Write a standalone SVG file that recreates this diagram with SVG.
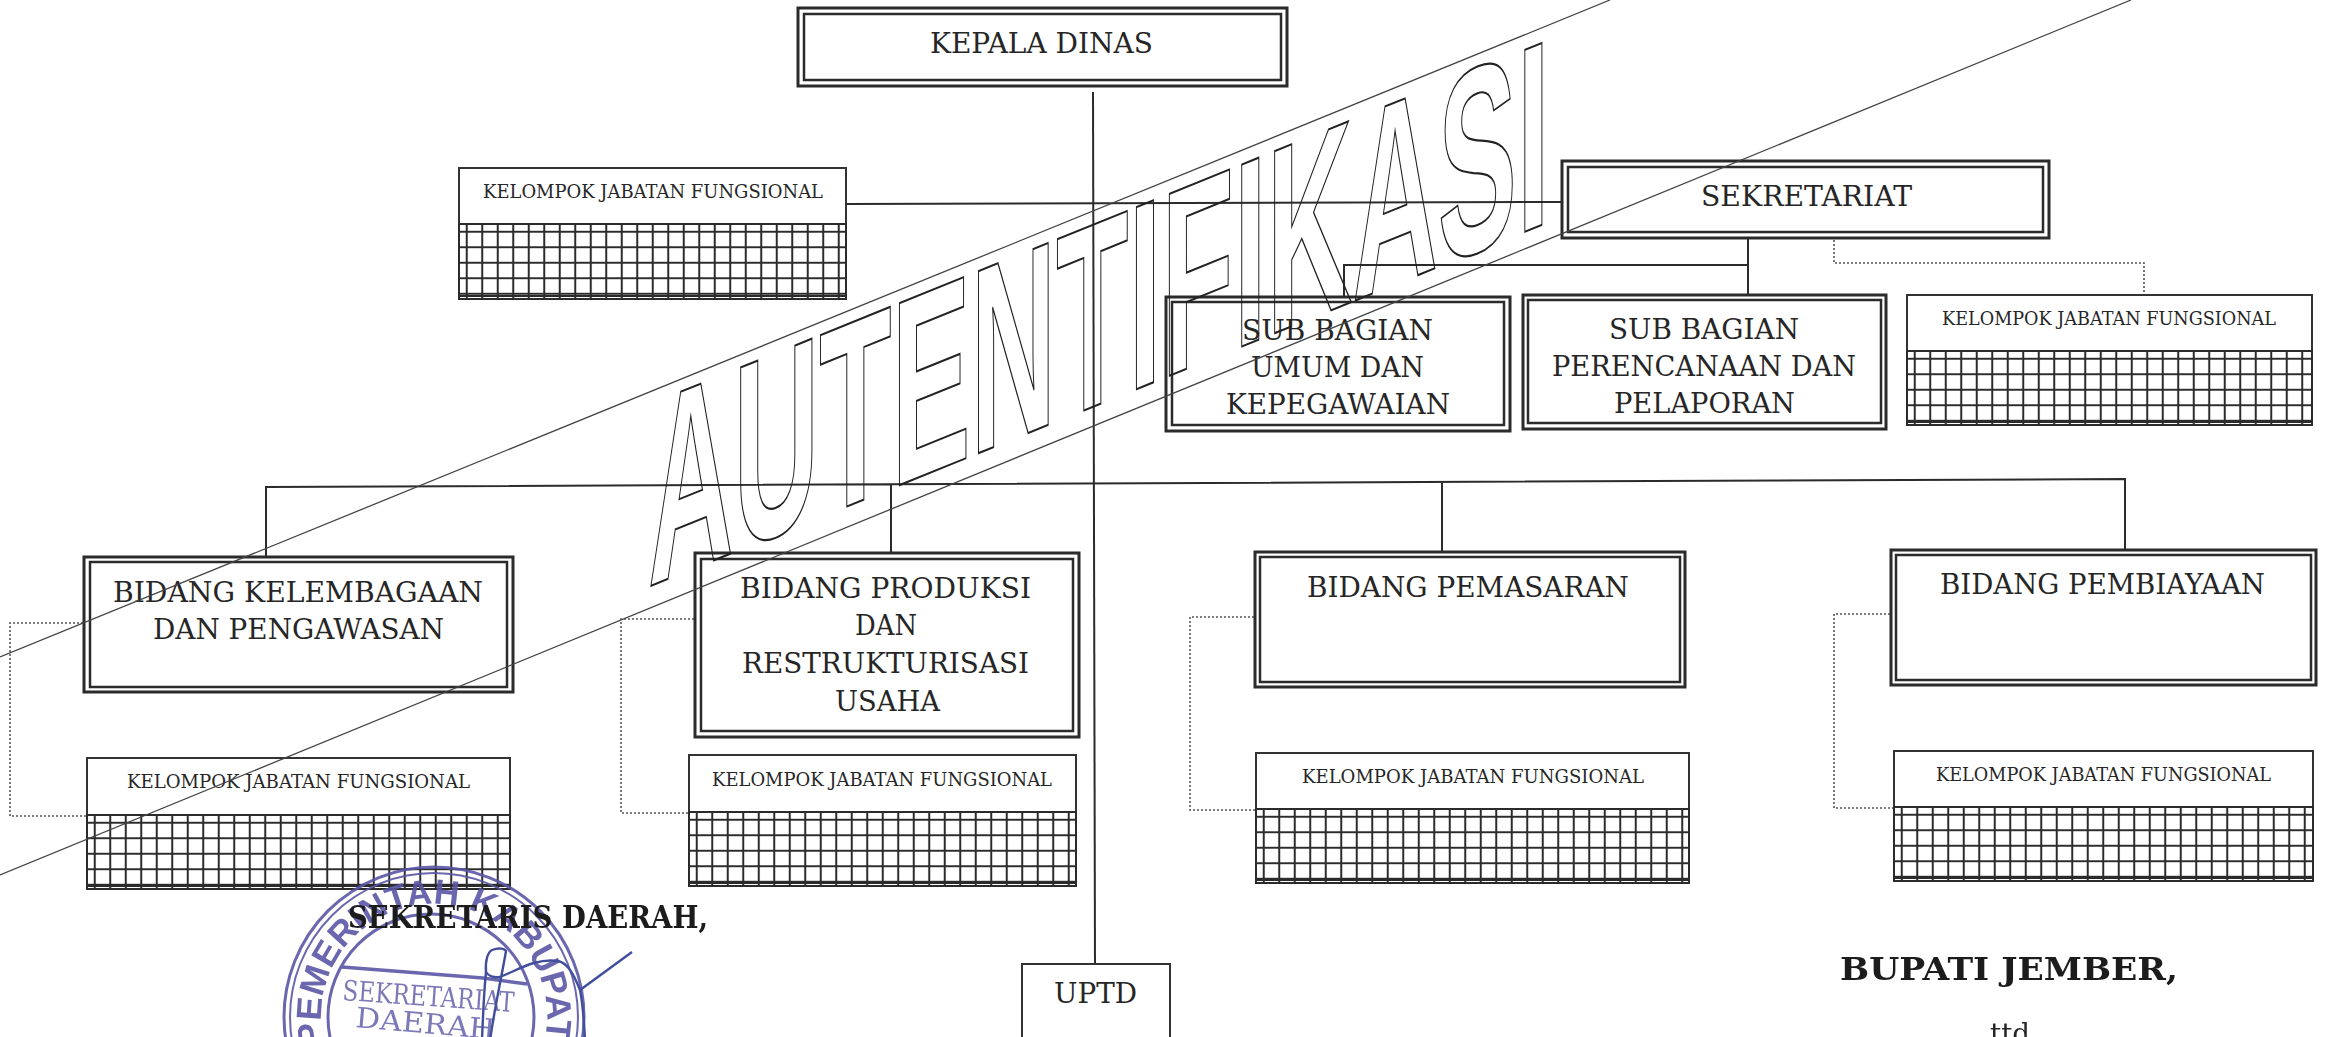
<svg xmlns="http://www.w3.org/2000/svg" width="2327" height="1037" viewBox="0 0 2327 1037">
<style>
text{font-family:"DejaVu Serif","Liberation Serif",serif;fill:#262626;font-size:27px}
.s{font-size:19px}
.b{font-weight:bold;fill:#1c1c1c;font-size:32px}
.o{fill:#fff;stroke:#2b2b2b;stroke-width:3}
.i{fill:#fff;stroke:#2b2b2b;stroke-width:2.5}
.k{fill:#fff;stroke:#333;stroke-width:2}
.g{fill:url(#grid);stroke:#2b2b2b;stroke-width:2}
.c{fill:none;stroke:#2b2b2b;stroke-width:2}
.d{fill:none;stroke:#555;stroke-width:1.6;stroke-dasharray:2 2}
.w{fill:none;stroke:#444;stroke-width:1.3}
.wt{font-family:"Liberation Sans",Arial,sans-serif;font-weight:bold;font-size:100px;fill:none;stroke:#222;stroke-width:1.7;vector-effect:non-scaling-stroke}
.st{fill:none;stroke:#5a56a6}
.stt{font-family:"Liberation Sans",Arial,sans-serif;font-weight:bold;fill:#5a56a6;font-size:35px}
.sts{font-family:"DejaVu Serif","Liberation Serif",serif;fill:#6d6ab0;font-size:28px}
.sg{fill:none;stroke:#2c3a90;stroke-width:2.4}
</style>
<defs>
<pattern id="grid" width="15.5" height="15.5" patternUnits="userSpaceOnUse">
<rect width="15.5" height="15.5" fill="#fff"/>
<path d="M0 7.75H15.5M7.75 0V15.5" fill="none" stroke="#2b2b2b" stroke-width="2"/>
</pattern>
<path id="stampArc" d="M331.6 1064.8A113 113 0 1 1 536.4 1064.8"/>
</defs>
<rect width="2327" height="1037" fill="#fff"/>

<g id="connectors">
<path class="c" d="M1093 92L1095 964"/>
<path class="c" d="M846 204L1562 202"/>
<path class="c" d="M1748 238V295M1344 296V265L1748 265"/>
<path class="c" d="M266 558V487L2125 479V550M891 484V553M1442 481V552"/>
<path class="d" d="M1834 240V263H2144V295"/>
<path class="d" d="M83 623H10V816H87"/>
<path class="d" d="M694 619H621V813H689"/>
<path class="d" d="M1254 617H1190V810H1256"/>
<path class="d" d="M1890 614H1834V808H1894"/>
</g>

<g id="kepala-dinas"><rect class="o" x="798" y="8" width="489" height="78"/><rect class="i" x="804" y="14" width="477" height="66"/><text x="930" y="53" textLength="223" lengthAdjust="spacingAndGlyphs">KEPALA DINAS</text></g>

<g id="kjf-atas"><rect class="k" x="459" y="168" width="387" height="56"/><rect class="g" transform="translate(459 224)" width="387" height="75"/><path class="c" d="M459 296H846"/><text class="s" x="483" y="198" textLength="340" lengthAdjust="spacingAndGlyphs">KELOMPOK JABATAN FUNGSIONAL</text></g>

<g id="sekretariat"><rect class="o" x="1562" y="161" width="487" height="77"/><rect class="i" x="1568" y="167" width="475" height="65"/><text x="1701" y="206" textLength="211" lengthAdjust="spacingAndGlyphs">SEKRETARIAT</text></g>

<g id="sub-umum"><rect class="o" x="1166" y="297" width="344" height="134"/><rect class="i" x="1172" y="302" width="332" height="123"/><text x="1242" y="340" textLength="191" lengthAdjust="spacingAndGlyphs">SUB BAGIAN</text><text x="1251" y="377" textLength="173" lengthAdjust="spacingAndGlyphs">UMUM DAN</text><text x="1226" y="414" textLength="224" lengthAdjust="spacingAndGlyphs">KEPEGAWAIAN</text></g>

<g id="sub-perencanaan"><rect class="o" x="1523" y="295" width="363" height="134"/><rect class="i" x="1528" y="300" width="353" height="123"/><text x="1609" y="339" textLength="190" lengthAdjust="spacingAndGlyphs">SUB BAGIAN</text><text x="1552" y="376" textLength="304" lengthAdjust="spacingAndGlyphs">PERENCANAAN DAN</text><text x="1614" y="413" textLength="181" lengthAdjust="spacingAndGlyphs">PELAPORAN</text></g>

<g id="kjf-sekretariat"><rect class="k" x="1907" y="295" width="405" height="56"/><rect class="g" transform="translate(1907 351)" width="405" height="74"/><path class="c" d="M1907 422H2312"/><text class="s" x="1942" y="325" textLength="334" lengthAdjust="spacingAndGlyphs">KELOMPOK JABATAN FUNGSIONAL</text></g>

<g id="bidang-kelembagaan"><rect class="o" x="84" y="557" width="429" height="135"/><rect class="i" x="90" y="562" width="417" height="125"/><text x="113" y="602" textLength="370" lengthAdjust="spacingAndGlyphs">BIDANG KELEMBAGAAN</text><text x="153" y="639" textLength="291" lengthAdjust="spacingAndGlyphs">DAN PENGAWASAN</text></g>

<g id="kjf-kelembagaan"><rect class="k" x="87" y="758" width="423" height="57"/><rect class="g" transform="translate(87 815)" width="423" height="74"/><path class="c" d="M87 886H510"/><text class="s" x="127" y="788" textLength="343" lengthAdjust="spacingAndGlyphs">KELOMPOK JABATAN FUNGSIONAL</text></g>

<g id="bidang-produksi"><rect class="o" x="695" y="553" width="384" height="184"/><rect class="i" x="701" y="559" width="372" height="172"/><text x="740" y="598" textLength="291" lengthAdjust="spacingAndGlyphs">BIDANG PRODUKSI</text><text x="855" y="635" textLength="62" lengthAdjust="spacingAndGlyphs">DAN</text><text x="742" y="673" textLength="287" lengthAdjust="spacingAndGlyphs">RESTRUKTURISASI</text><text x="835" y="711" textLength="105" lengthAdjust="spacingAndGlyphs">USAHA</text></g>

<g id="kjf-produksi"><rect class="k" x="689" y="755" width="387" height="57"/><rect class="g" transform="translate(689 812)" width="387" height="74"/><path class="c" d="M689 883H1076"/><text class="s" x="712" y="786" textLength="340" lengthAdjust="spacingAndGlyphs">KELOMPOK JABATAN FUNGSIONAL</text></g>

<g id="bidang-pemasaran"><rect class="o" x="1255" y="552" width="430" height="135"/><rect class="i" x="1260" y="557" width="420" height="125"/><text x="1307" y="597" textLength="322" lengthAdjust="spacingAndGlyphs">BIDANG PEMASARAN</text></g>

<g id="kjf-pemasaran"><rect class="k" x="1256" y="753" width="433" height="56"/><rect class="g" transform="translate(1256 809)" width="433" height="74"/><path class="c" d="M1256 880H1689"/><text class="s" x="1302" y="783" textLength="342" lengthAdjust="spacingAndGlyphs">KELOMPOK JABATAN FUNGSIONAL</text></g>

<g id="bidang-pembiayaan"><rect class="o" x="1891" y="550" width="425" height="135"/><rect class="i" x="1896" y="555" width="415" height="125"/><text x="1940" y="594" textLength="325" lengthAdjust="spacingAndGlyphs">BIDANG PEMBIAYAAN</text></g>

<g id="kjf-pembiayaan"><rect class="k" x="1894" y="751" width="419" height="56"/><rect class="g" transform="translate(1894 807)" width="419" height="74"/><path class="c" d="M1894 878H2313"/><text class="s" x="1936" y="781" textLength="335" lengthAdjust="spacingAndGlyphs">KELOMPOK JABATAN FUNGSIONAL</text></g>

<g id="uptd"><rect class="k" x="1022" y="964" width="148" height="80"/><text x="1054" y="1003" textLength="83" lengthAdjust="spacingAndGlyphs">UPTD</text></g>

<g id="stempel" opacity="0.9">
<circle class="st" cx="434" cy="1017" r="150" stroke-width="3"/>
<circle class="st" cx="434" cy="1017" r="144" stroke-width="2"/>
<circle class="st" cx="431" cy="1017" r="103" stroke-width="3"/>
<path class="st" stroke-width="3.5" d="M342 967L483 978L527 984"/>
<text class="stt"><textPath href="#stampArc" startOffset="22">PEMERINTAH KABUPATEN JEMBER</textPath></text>
<text class="sts" transform="rotate(4 342 1000)" x="342" y="1000" textLength="172" lengthAdjust="spacingAndGlyphs">SEKRETARIAT</text>
<text class="sts" transform="rotate(5 355 1027)" x="355" y="1027" textLength="140" lengthAdjust="spacingAndGlyphs">DAERAH</text>
<path class="sg" d="M632 952L580 990C574 975 568 963 558 961C535 958 518 970 500 977C494 978 488 976 486 972C485 960 488 952 492 950C500 947 505 949 506 951C502 975 496 1000 490 1040"/>
<path class="sg" d="M486 972C484 990 483 1015 482 1040M580 990C583 1005 584 1020 585 1040"/>
</g>

<g id="sekretaris-daerah"><text class="b" x="348" y="928" textLength="360" lengthAdjust="spacingAndGlyphs">SEKRETARIS DAERAH,</text></g>
<g id="bupati"><text class="b" x="1840" y="980" textLength="338" lengthAdjust="spacingAndGlyphs">BUPATI JEMBER,</text><text x="1990" y="1043" textLength="40" lengthAdjust="spacingAndGlyphs">ttd</text></g>

<g id="watermark">
<path class="w" d="M0 657L1610 0M0 875L2131 0"/>
<text class="wt" transform="matrix(1.185 -0.48 0 2.645 648 587)">AUTENTIFIKASI</text>
</g>
</svg>
